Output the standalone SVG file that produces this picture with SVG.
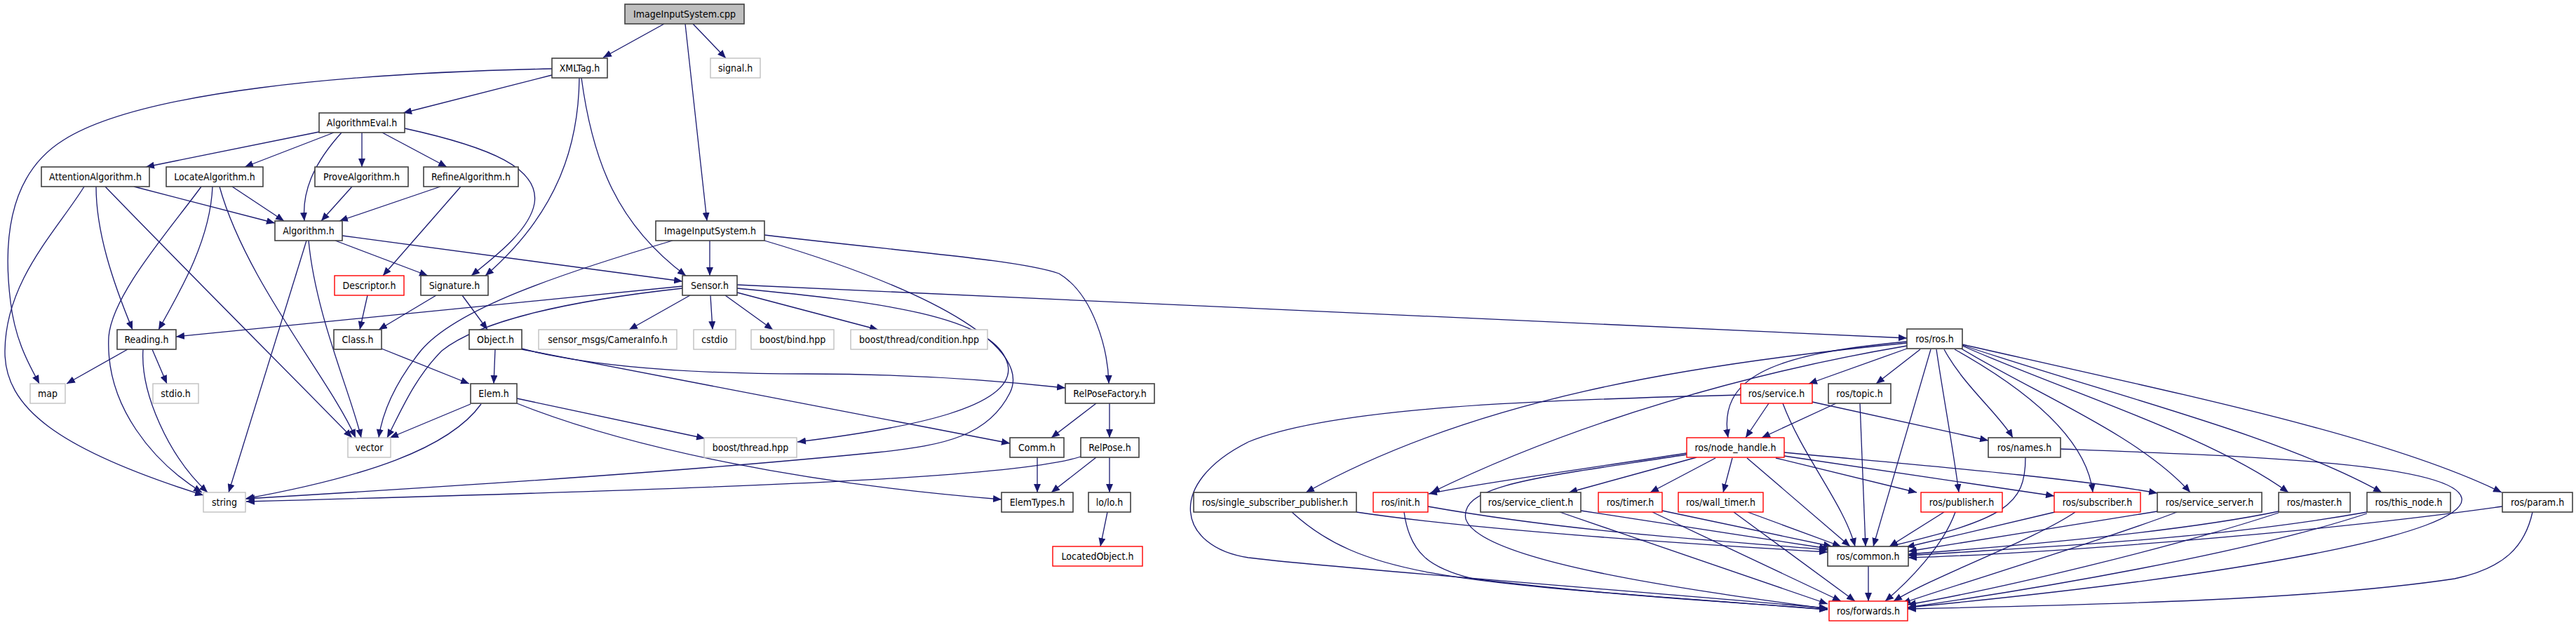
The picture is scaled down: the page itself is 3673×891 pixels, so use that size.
<svg xmlns="http://www.w3.org/2000/svg" width="3673" height="891" viewBox="0 0 3673 891">
<style>
.n rect{fill:#fff;stroke:#404040;stroke-width:1.6}
.g rect{fill:#fff;stroke:#c0c0c0;stroke-width:1.4}
.r rect{fill:#fff;stroke:#ff0000;stroke-width:1.4}
.root rect{fill:#bfbfbf;stroke:#404040;stroke-width:1.6}
text{font-family:"DejaVu Sans Condensed","DejaVu Sans","Liberation Sans",sans-serif;font-stretch:condensed;font-size:14px;fill:#000;text-anchor:middle}
.e path{fill:none;stroke:#191970;stroke-width:1.3;marker-end:url(#a)}
</style>
<defs>
<marker id="a" markerWidth="12" markerHeight="10" refX="12" refY="5" orient="auto" markerUnits="userSpaceOnUse"><path d="M0,0 L12,5 L0,10 z" fill="#191970" stroke="none"/></marker>
</defs>
<rect x="0" y="0" width="3673" height="891" fill="#fff"/>
<g id="edges" class="e">
<path d="M947,34 L860,82"/>
<path d="M977,34 L1008,315"/>
<path d="M988,34 L1035,83"/>
<path d="M787,98 C500,104 200,130 90,200 C10,250 5,350 15,430 C22,490 45,525 56,547"/>
<path d="M787,107 L575,161"/>
<path d="M826,111 C825,200 800,300 692,393"/>
<path d="M829,111 C845,230 880,320 978,393"/>
<path d="M455,188 L208,238"/>
<path d="M476,189 L349,238"/>
<path d="M487,189 C450,230 430,270 434,315"/>
<path d="M516,189 L516,238"/>
<path d="M545,189 L637,238"/>
<path d="M577,183 C700,210 770,240 762,290 C755,330 700,370 672,393"/>
<path d="M120,266 C80,330 8,400 7,500 C6,580 80,640 290,706"/>
<path d="M137,266 C137,330 160,400 189,470"/>
<path d="M150,266 C260,380 440,560 502,624"/>
<path d="M191,266 L392,318"/>
<path d="M287,266 C240,330 160,420 155,480 C150,580 220,660 288,702"/>
<path d="M303,266 C300,340 260,410 226,470"/>
<path d="M313,266 C350,400 470,540 507,624"/>
<path d="M331,266 L405,315"/>
<path d="M502,266 L458,315"/>
<path d="M628,266 L484,315"/>
<path d="M657,266 L546,393"/>
<path d="M478,343 L610,393"/>
<path d="M488,336 L973,401"/>
<path d="M437,343 L326,702"/>
<path d="M440,343 C450,450 500,560 515,624"/>
<path d="M524,421 L513,470"/>
<path d="M622,421 L540,470"/>
<path d="M659,421 L695,470"/>
<path d="M544,497 L669,547"/>
<path d="M706,498 L704,547"/>
<path d="M744,497 C850,525 1000,533 1150,533 C1300,533 1420,542 1519,553"/>
<path d="M744,498 L1440,632"/>
<path d="M671,576 L556,624"/>
<path d="M686,576 C640,640 520,680 350,711"/>
<path d="M737,568 L1005,625"/>
<path d="M737,575 C900,640 1150,690 1428,712"/>
<path d="M973,408 L251,480"/>
<path d="M973,411 C800,430 680,460 630,500 C590,540 570,590 552,624"/>
<path d="M984,421 L897,470"/>
<path d="M1013,421 L1016,470"/>
<path d="M1034,421 L1102,470"/>
<path d="M1051,417 L1252,470"/>
<path d="M1051,411 C1250,430 1420,450 1437,520 C1450,580 1300,610 1137,630"/>
<path d="M1051,406 L2719,482"/>
<path d="M1012,343 L1012,393"/>
<path d="M959,343 C800,390 650,440 600,500 C560,550 545,590 540,624"/>
<path d="M1090,343 C1350,420 1470,500 1440,560 C1410,620 1350,635 1250,645 C1000,670 700,690 351,711"/>
<path d="M1090,335 C1300,360 1450,370 1510,390 C1560,420 1580,500 1581,547"/>
<path d="M1563,575 L1499,624"/>
<path d="M1582,575 L1582,624"/>
<path d="M1479,652 L1479,702"/>
<path d="M1563,652 L1499,702"/>
<path d="M1582,652 L1582,702"/>
<path d="M1541,651 C1450,680 1100,695 351,715"/>
<path d="M1579,730 L1569,779"/>
<path d="M182,498 L95,547"/>
<path d="M204,498 C200,560 240,650 296,702"/>
<path d="M217,498 L238,547"/>
<path d="M2719,497 L2579,547"/>
<path d="M2738,498 L2675,547"/>
<path d="M2719,487 C2520,505 2450,540 2464,624"/>
<path d="M2719,489 C2400,520 2100,570 1862,702"/>
<path d="M2719,493 C2500,530 2250,600 2041,702"/>
<path d="M2753,498 L2671,779"/>
<path d="M2761,498 C2770,560 2785,640 2793,702"/>
<path d="M2772,498 C2800,550 2850,590 2870,624"/>
<path d="M2787,498 C2880,550 2975,620 2984,702"/>
<path d="M2793,495 C2900,560 3050,620 3123,702"/>
<path d="M2798,493 C2950,560 3150,620 3263,702"/>
<path d="M2798,492 C3000,560 3250,620 3396,702"/>
<path d="M2798,491 C3100,560 3400,620 3567,702"/>
<path d="M2522,575 L2489,624"/>
<path d="M2542,575 C2570,650 2630,720 2645,779"/>
<path d="M2482,563 C2200,570 1900,580 1780,630 C1660,690 1680,780 1780,795 C1900,810 2300,840 2606,867"/>
<path d="M2584,573 L2835,628"/>
<path d="M2618,575 L2512,624"/>
<path d="M2652,575 L2660,779"/>
<path d="M2888,652 C2888,720 2860,740 2694,779"/>
<path d="M2938,640 C3200,650 3500,660 3510,710 C3520,760 3200,820 2720,866"/>
<path d="M2405,646 C2250,670 2100,690 2037,704"/>
<path d="M2405,648 C2200,680 2080,690 2090,740 C2110,800 2400,840 2606,868"/>
<path d="M2419,652 L2237,702"/>
<path d="M2446,653 L2353,702"/>
<path d="M2470,653 L2457,702"/>
<path d="M2491,653 L2638,779"/>
<path d="M2532,653 L2733,702"/>
<path d="M2544,650 L2929,707"/>
<path d="M2544,645 C2700,660 2950,680 3076,703"/>
<path d="M1934,730 C2100,755 2400,775 2606,787"/>
<path d="M1842,730 C1950,830 2100,830 2606,869"/>
<path d="M2036,722 C2250,760 2450,770 2606,784"/>
<path d="M2002,730 C2010,790 2040,810 2100,825 C2300,850 2500,860 2606,869"/>
<path d="M2254,728 L2606,782"/>
<path d="M2224,730 L2606,861"/>
<path d="M2370,728 L2612,779"/>
<path d="M2356,730 L2625,857"/>
<path d="M2492,730 L2625,779"/>
<path d="M2472,730 L2645,857"/>
<path d="M2664,807 L2664,857"/>
<path d="M2772,730 L2694,779"/>
<path d="M2788,730 C2770,780 2720,830 2688,857"/>
<path d="M2930,730 L2718,780"/>
<path d="M2959,730 C2900,770 2760,820 2700,857"/>
<path d="M3076,729 L2721,786"/>
<path d="M3104,730 C3000,770 2800,830 2712,860"/>
<path d="M3249,729 C3100,760 2850,780 2721,790"/>
<path d="M3249,731 C3100,780 2850,840 2720,862"/>
<path d="M3375,730 C3150,770 2900,780 2721,792"/>
<path d="M3375,732 C3200,790 2900,840 2720,866"/>
<path d="M3568,722 C3300,760 2900,790 2721,795"/>
<path d="M3611,730 C3600,780 3570,810 3500,825 C3300,855 3000,862 2720,868"/>
</g>
<g id="n_cpp" class="root"><rect x="891" y="6" width="170" height="28"/><text x="976" y="25">ImageInputSystem.cpp</text></g>
<g id="n_xmltag" class="n"><rect x="787" y="83" width="79" height="28"/><text x="826.5" y="102">XMLTag.h</text></g>
<g id="n_signal" class="g"><rect x="1013" y="83" width="71" height="28"/><text x="1048.5" y="102">signal.h</text></g>
<g id="n_algeval" class="n"><rect x="455" y="161" width="122" height="28"/><text x="516" y="180">AlgorithmEval.h</text></g>
<g id="n_attn" class="n"><rect x="59" y="238" width="154" height="28"/><text x="136" y="257">AttentionAlgorithm.h</text></g>
<g id="n_locate" class="n"><rect x="237" y="238" width="138" height="28"/><text x="306" y="257">LocateAlgorithm.h</text></g>
<g id="n_prove" class="n"><rect x="449" y="238" width="133" height="28"/><text x="515.5" y="257">ProveAlgorithm.h</text></g>
<g id="n_refine" class="n"><rect x="604" y="238" width="135" height="28"/><text x="671.5" y="257">RefineAlgorithm.h</text></g>
<g id="n_algo" class="n"><rect x="392" y="315" width="96" height="28"/><text x="440" y="334">Algorithm.h</text></g>
<g id="n_iish" class="n"><rect x="935" y="315" width="155" height="28"/><text x="1012.5" y="334">ImageInputSystem.h</text></g>
<g id="n_desc" class="r"><rect x="477" y="393" width="99" height="28"/><text x="526.5" y="412">Descriptor.h</text></g>
<g id="n_sig" class="n"><rect x="600" y="393" width="96" height="28"/><text x="648" y="412">Signature.h</text></g>
<g id="n_sensor" class="n"><rect x="973" y="393" width="78" height="28"/><text x="1012" y="412">Sensor.h</text></g>
<g id="n_reading" class="n"><rect x="167" y="470" width="84" height="28"/><text x="209" y="489">Reading.h</text></g>
<g id="n_class" class="n"><rect x="476" y="470" width="68" height="28"/><text x="510" y="489">Class.h</text></g>
<g id="n_object" class="n"><rect x="669" y="470" width="75" height="28"/><text x="706.5" y="489">Object.h</text></g>
<g id="n_caminfo" class="g"><rect x="768" y="470" width="197" height="28"/><text x="866.5" y="489">sensor_msgs/CameraInfo.h</text></g>
<g id="n_cstdio" class="g"><rect x="989" y="470" width="60" height="28"/><text x="1019" y="489">cstdio</text></g>
<g id="n_bind" class="g"><rect x="1071" y="470" width="118" height="28"/><text x="1130" y="489">boost/bind.hpp</text></g>
<g id="n_cond" class="g"><rect x="1213" y="470" width="195" height="28"/><text x="1310.5" y="489">boost/thread/condition.hpp</text></g>
<g id="n_ros" class="n"><rect x="2719" y="469" width="79" height="28"/><text x="2758.5" y="488">ros/ros.h</text></g>
<g id="n_map" class="g"><rect x="43" y="547" width="50" height="28"/><text x="68" y="566">map</text></g>
<g id="n_stdio" class="g"><rect x="218" y="547" width="65" height="28"/><text x="250.5" y="566">stdio.h</text></g>
<g id="n_elem" class="n"><rect x="671" y="547" width="66" height="28"/><text x="704" y="566">Elem.h</text></g>
<g id="n_rpf" class="n"><rect x="1519" y="547" width="127" height="28"/><text x="1582.5" y="566">RelPoseFactory.h</text></g>
<g id="n_service" class="r"><rect x="2482" y="547" width="102" height="28"/><text x="2533" y="566">ros/service.h</text></g>
<g id="n_topic" class="n"><rect x="2607" y="547" width="89" height="28"/><text x="2651.5" y="566">ros/topic.h</text></g>
<g id="n_vector" class="g"><rect x="496" y="624" width="61" height="28"/><text x="526.5" y="643">vector</text></g>
<g id="n_bthread" class="g"><rect x="1004" y="624" width="132" height="28"/><text x="1070" y="643">boost/thread.hpp</text></g>
<g id="n_comm" class="n"><rect x="1440" y="624" width="77" height="28"/><text x="1478.5" y="643">Comm.h</text></g>
<g id="n_relpose" class="n"><rect x="1541" y="624" width="83" height="28"/><text x="1582.5" y="643">RelPose.h</text></g>
<g id="n_nh" class="r"><rect x="2405" y="624" width="139" height="28"/><text x="2474.5" y="643">ros/node_handle.h</text></g>
<g id="n_names" class="n"><rect x="2835" y="624" width="103" height="28"/><text x="2886.5" y="643">ros/names.h</text></g>
<g id="n_string" class="g"><rect x="290" y="702" width="60" height="28"/><text x="320" y="721">string</text></g>
<g id="n_elemtypes" class="n"><rect x="1428" y="702" width="102" height="28"/><text x="1479" y="721">ElemTypes.h</text></g>
<g id="n_lo" class="n"><rect x="1552" y="702" width="60" height="28"/><text x="1582" y="721">lo/lo.h</text></g>
<g id="n_ssp" class="n"><rect x="1702" y="702" width="232" height="28"/><text x="1818" y="721">ros/single_subscriber_publisher.h</text></g>
<g id="n_init" class="r"><rect x="1958" y="702" width="78" height="28"/><text x="1997" y="721">ros/init.h</text></g>
<g id="n_sclient" class="n"><rect x="2111" y="702" width="143" height="28"/><text x="2182.5" y="721">ros/service_client.h</text></g>
<g id="n_timer" class="r"><rect x="2279" y="702" width="91" height="28"/><text x="2324.5" y="721">ros/timer.h</text></g>
<g id="n_wtimer" class="r"><rect x="2393" y="702" width="121" height="28"/><text x="2453.5" y="721">ros/wall_timer.h</text></g>
<g id="n_pub" class="r"><rect x="2739" y="702" width="116" height="28"/><text x="2797" y="721">ros/publisher.h</text></g>
<g id="n_sub" class="r"><rect x="2929" y="702" width="123" height="28"/><text x="2990.5" y="721">ros/subscriber.h</text></g>
<g id="n_sserver" class="n"><rect x="3076" y="702" width="149" height="28"/><text x="3150.5" y="721">ros/service_server.h</text></g>
<g id="n_master" class="n"><rect x="3249" y="702" width="102" height="28"/><text x="3300" y="721">ros/master.h</text></g>
<g id="n_thisnode" class="n"><rect x="3375" y="702" width="119" height="28"/><text x="3434.5" y="721">ros/this_node.h</text></g>
<g id="n_param" class="n"><rect x="3568" y="702" width="100" height="28"/><text x="3618" y="721">ros/param.h</text></g>
<g id="n_locobj" class="r"><rect x="1501" y="779" width="128" height="28"/><text x="1565" y="798">LocatedObject.h</text></g>
<g id="n_common" class="n"><rect x="2606" y="779" width="115" height="28"/><text x="2663.5" y="798">ros/common.h</text></g>
<g id="n_fwd" class="r"><rect x="2608" y="857" width="112" height="28"/><text x="2664" y="876">ros/forwards.h</text></g>
</svg>
